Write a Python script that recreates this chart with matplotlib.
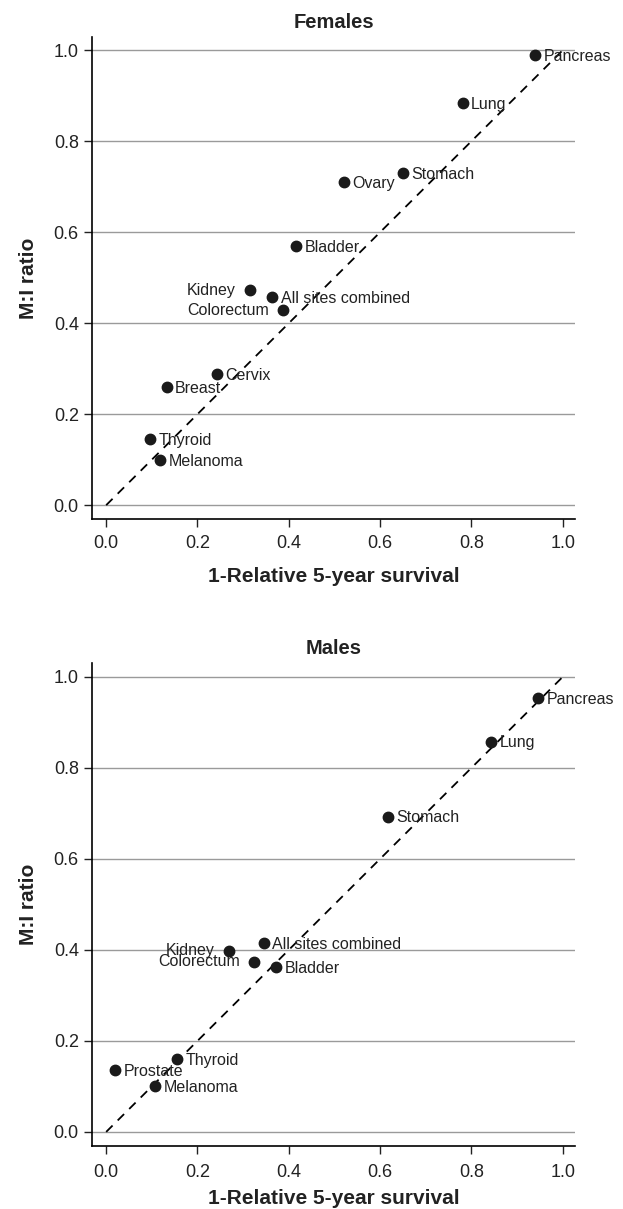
import numpy as np
import matplotlib
matplotlib.use("Agg")
import matplotlib.pyplot as plt

plt.rcParams['font.family'] = ['Liberation Sans', 'DejaVu Sans']

# Females
f_sites = ['Pancreas', 'Lung', 'Stomach', 'Ovary', 'Bladder', 'Kidney',
           'All sites combined', 'Colorectum', 'Cervix', 'Breast', 'Thyroid', 'Melanoma']
f_surv = [0.940, 0.781, 0.651, 0.520, 0.416, 0.315, 0.364, 0.388, 0.242, 0.133, 0.097, 0.118]
f_mi = [0.990, 0.884, 0.730, 0.711, 0.570, 0.473, 0.458, 0.429, 0.289, 0.259, 0.145, 0.100]
f_left = ['Kidney', 'Colorectum']

# Males
m_sites = ['Pancreas', 'Lung', 'Stomach', 'All sites combined', 'Kidney', 'Colorectum',
           'Bladder', 'Thyroid', 'Prostate', 'Melanoma']
m_surv = [0.946, 0.843, 0.618, 0.346, 0.268, 0.323, 0.373, 0.156, 0.020, 0.107]
m_mi = [0.953, 0.858, 0.693, 0.416, 0.398, 0.374, 0.363, 0.160, 0.135, 0.101]
m_left = ['Kidney', 'Colorectum']

ticks = [0.0, 0.2, 0.4, 0.6, 0.8, 1.0]


def panel(ax, title, sites, xs, ys, left_labels, xpad, xlabelpad):
    for t in ticks:
        ax.axhline(t, color='#9a9a9a', lw=1.0, zorder=1)
    ax.plot([0, 1], [0, 1], ls=(0, (5, 4)), color='black', lw=1.3, zorder=2)
    ax.plot(xs, ys, 'o', color='#1a1a1a', ms=7.5, zorder=3)
    for s, x, y in zip(sites, xs, ys):
        if s in left_labels:
            ax.annotate(s, (x, y), xytext=(-10, 0), textcoords='offset points',
                        ha='right', va='center', fontsize=11.5, color='#222222')
        else:
            ax.annotate(s, (x, y), xytext=(6, -1), textcoords='offset points',
                        ha='left', va='center', fontsize=11.5, color='#222222')
    ax.set_xlim(-0.031, 1.027)
    ax.set_ylim(-0.031, 1.03)
    ax.set_xticks(ticks)
    ax.set_yticks(ticks)
    ax.set_xticklabels(['%.1f' % t for t in ticks])
    ax.set_yticklabels(['%.1f' % t for t in ticks])
    ax.spines['top'].set_visible(False)
    ax.spines['right'].set_visible(False)
    ax.spines['left'].set_linewidth(1.2)
    ax.spines['bottom'].set_linewidth(1.2)
    ax.tick_params(length=5.5, width=1.0, labelsize=13, colors='#222222', pad=4)
    ax.tick_params(axis='x', pad=xpad)
    ax.set_title(title, fontsize=14.5, fontweight='bold', pad=6.5, color='#222222')
    ax.set_xlabel('1-Relative 5-year survival', fontsize=15, fontweight='bold',
                  labelpad=xlabelpad, color='#222222')
    ax.set_ylabel('M:I ratio', fontsize=15, fontweight='bold', labelpad=11.5, color='#222222')


fig = plt.figure(figsize=(6.23, 12.09), dpi=100)
ax1 = fig.add_axes([0.1477, 0.5705, 0.7753, 0.3992])
ax2 = fig.add_axes([0.1477, 0.0521, 0.7753, 0.3993])

panel(ax1, 'Females', f_sites, f_surv, f_mi, f_left, 5.5, 11)
panel(ax2, 'Males', m_sites, m_surv, m_mi, m_left, 7.5, 5.5)

fig.savefig('out.png', dpi=100)
